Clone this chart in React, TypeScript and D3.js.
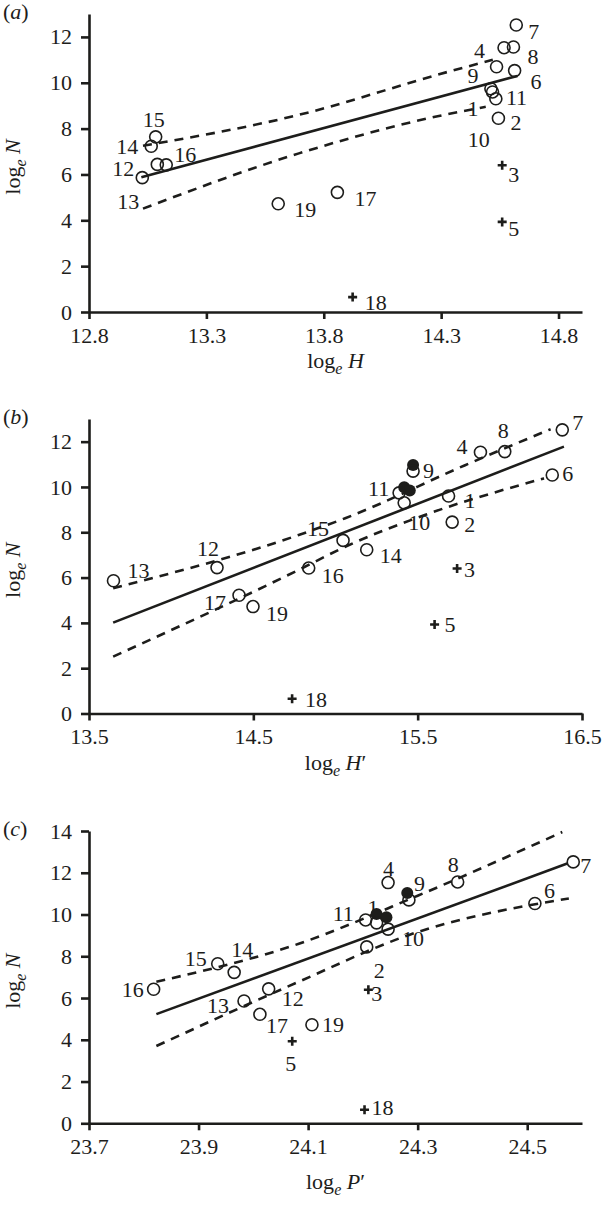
import React, { useEffect, useRef } from 'react';
import * as d3 from 'd3';

// species numbers, shared by all three panels
const speciesIds = [1, 2, 3, 4, 5, 6, 7, 8, 9, 10, 11, 12, 13, 14, 15, 16, 17, 18, 19];
const outlierIds = [3, 5, 18];

// y values (log_e N), same for every panel
const logN = [9.6, 8.45, 6.4, 11.53, 3.93, 10.53, 12.52, 11.56, 10.7, 9.3, 9.74, 6.44, 5.86, 7.23, 7.64, 6.42, 5.22, 0.65, 4.72];

// x values per panel
const logH = [14.519, 14.544, 14.56, 14.568, 14.56, 14.613, 14.62, 14.608, 14.536, 14.533, 14.512, 13.091, 13.027, 13.065, 13.084, 13.129, 13.858, 13.923, 13.606];
const logHPrime = [15.688, 15.71, 15.74, 15.882, 15.603, 16.319, 16.38, 16.03, 15.472, 15.418, 15.387, 14.279, 13.649, 15.19, 15.046, 14.837, 14.413, 14.736, 14.498];
const logPPrime = [24.225, 24.207, 24.21, 24.246, 24.071, 24.514, 24.584, 24.373, 24.284, 24.246, 24.205, 24.028, 23.983, 23.965, 23.935, 23.818, 24.012, 24.203, 24.107];

// filled (alternative) points
const filledHPrime = [15.418, 15.452, 15.472];
const filledNB = [9.99, 9.84, 10.97];
const filledPPrime = [24.225, 24.243, 24.281];
const filledNC = [10.03, 9.87, 11.03];

// regression line and confidence limits
const fitHx = [13.023, 14.625];
const fitHy = [5.88, 10.3];
const upperHx = [13.03, 13.694, 14.33, 14.52];
const upperHy = [7.25, 8.6, 10.48, 11.0];
const lowerHx = [13.03, 13.694, 14.29, 14.49];
const lowerHy = [4.51, 6.92, 8.55, 8.95];

const fitHPx = [13.647, 16.39];
const fitHPy = [4.01, 11.78];
const upperHPx = [13.647, 14.776, 15.059, 15.785, 16.309];
const upperHPy = [5.53, 7.88, 8.62, 10.95, 12.55];
const lowerHPx = [13.647, 14.776, 15.059, 15.543, 16.269];
const lowerHPy = [2.51, 6.34, 7.36, 8.76, 10.38];

const fitPx = [23.823, 24.573];
const fitPy = [5.23, 12.44];
const upperPx = [23.823, 24.083, 24.3, 24.564];
const upperPy = [6.78, 8.6, 10.9, 13.95];
const lowerPx = [23.823, 24.083, 24.283, 24.576];
const lowerPy = [3.7, 6.78, 9.01, 10.77];

// ticks
const xTicksA = [12.8, 13.3, 13.8, 14.3, 14.8];
const xTicksB = [13.5, 14.5, 15.5, 16.5];
const xTicksC = [23.7, 23.9, 24.1, 24.3, 24.5];
const yTicksAB = [0, 2, 4, 6, 8, 10, 12];
const yTicksC = [0, 2, 4, 6, 8, 10, 12, 14];

// label placement (px offset from the marker to the label's start/baseline)
const labelOffsetA: [number, number][] = [
  [-25, 24], [12, 12], [6, 17], [-30, 10], [6, 14], [16, 18], [12, 14], [14, 17], [-29, 16], [-28, 48],
  [15, 16], [-45, 12], [-25, 31], [-35, 8], [-13, -10], [8, -3], [17, 14], [12, 13], [16, 13],
];
const labelOffsetB: [number, number][] = [
  [16, 12], [12, 10], [7, 8], [-24, 2], [10, 8], [10, 6], [10, 0], [-7, -14], [10, 7], [4, 27],
  [-31, 3], [-20, -12], [14, -3], [13, 13], [-36, -4], [13, 15], [-35, 15], [13, 8], [13, 14],
];
const labelOffsetC: [number, number][] = [
  [-9, -8], [7, 31], [3, 11], [-5, -7], [-7, 30], [9, -5], [7, 11], [-10, -10], [5, -9], [14, 17],
  [-33, 1], [13, 17], [-37, 12], [-3, -15], [-33, 2], [-32, 8], [6, 19], [7, 5], [10, 7],
];

const FONT = '"Liberation Serif", "Times New Roman", serif';
const INK = '#1d1d1b';
const LEFT = 89;
const RIGHT = 582;

interface PanelProps {
  tag: string;
  xs: number[];
  xDomain: [number, number];
  yDomain: [number, number];
  top: number;
  bottom: number;
  xTicks: number[];
  yTicks: number[];
  fit: [number[], number[]];
  upper: [number[], number[]];
  lower: [number[], number[]];
  filled: [number[], number[]];
  offsets: [number, number][];
  xName: string;
  prime: boolean;
  titleGap: number;
}

function Panel(props: PanelProps) {
  const gx = useRef<SVGGElement>(null);
  const gy = useRef<SVGGElement>(null);
  const x = d3.scaleLinear().domain(props.xDomain).range([LEFT, RIGHT]);
  const y = d3.scaleLinear().domain(props.yDomain).range([props.bottom, props.top]);

  useEffect(() => {
    const ax = d3.select(gx.current);
    ax.call(
      d3.axisBottom(x).tickValues(props.xTicks).tickFormat(d3.format('.1f'))
        .tickSizeInner(7).tickSizeOuter(0).tickPadding(8)
    );
    const ay = d3.select(gy.current);
    ay.call(
      d3.axisLeft(y).tickValues(props.yTicks).tickFormat(d3.format('d'))
        .tickSizeInner(8).tickSizeOuter(0).tickPadding(9)
    );
    [ax, ay].forEach((g) => {
      g.attr('font-size', 22).attr('font-family', FONT);
      g.selectAll('path, line').attr('stroke', INK).attr('stroke-width', 2.6);
      g.selectAll('text').attr('fill', INK);
    });
  }, []);

  const pathOf = (pts: [number[], number[]]) =>
    d3.line<number>()
      .x((_, i) => x(pts[0][i]))
      .y((_, i) => y(pts[1][i]))
      .curve(d3.curveMonotoneX)(pts[0]) || '';

  const midX = (LEFT + RIGHT) / 2;
  const midY = (props.top + props.bottom) / 2 + 4;

  return (
    <g>
      <text x={3} y={props.top + 5} fontFamily={FONT} fontSize={22} fill={INK}>
        (<tspan fontStyle="italic">{props.tag}</tspan>)
      </text>

      <path d={pathOf(props.upper)} fill="none" stroke={INK} strokeWidth={2.6} strokeDasharray="9,7" />
      <path d={pathOf(props.lower)} fill="none" stroke={INK} strokeWidth={2.6} strokeDasharray="9,7" />
      <path d={pathOf(props.fit)} fill="none" stroke={INK} strokeWidth={2.6} />

      {props.filled[0].map((v, i) => (
        <circle key={'f' + i} cx={x(v)} cy={y(props.filled[1][i])} r={6} fill={INK} />
      ))}

      {speciesIds.map((id, i) => {
        const cx = x(props.xs[i]);
        const cy = y(logN[i]);
        const [dx, dy] = props.offsets[i];
        return (
          <g key={id}>
            {outlierIds.includes(id) ? (
              <path d={`M${cx - 4.5},${cy}H${cx + 4.5}M${cx},${cy - 4.5}V${cy + 4.5}`} stroke={INK} strokeWidth={2.6} />
            ) : (
              <circle cx={cx} cy={cy} r={6} fill="none" stroke={INK} strokeWidth={1.6} />
            )}
            <text x={cx + dx} y={cy + dy} fontFamily={FONT} fontSize={22} fill={INK}>{id}</text>
          </g>
        );
      })}

      <g ref={gx} transform={`translate(0,${props.bottom})`} />
      <g ref={gy} transform={`translate(${LEFT},0)`} />

      <text x={midX} y={props.bottom + props.titleGap} textAnchor="middle" fontFamily={FONT} fontSize={22} fill={INK}>
        log<tspan fontSize={16} fontStyle="italic" dy={6}>e</tspan>
        <tspan dy={-6}> </tspan>
        <tspan fontStyle="italic">{props.xName}</tspan>
        {props.prime ? '\u2032' : ''}
      </text>

      <text transform={`translate(20,${midY}) rotate(-90)`} textAnchor="middle" fontFamily={FONT} fontSize={22} fill={INK}>
        log<tspan fontSize={16} fontStyle="italic" dy={6}>e</tspan>
        <tspan dy={-6}> </tspan>
        <tspan fontStyle="italic">N</tspan>
      </text>
    </g>
  );
}

export default function App() {
  return (
    <svg width={606} height={1213} style={{ position: 'absolute', left: 0, top: 0, background: '#fff' }}>
      <Panel tag="a" xs={logH} xDomain={[12.8, 14.9]} yDomain={[0, 13]} top={14} bottom={312}
        xTicks={xTicksA} yTicks={yTicksAB} fit={[fitHx, fitHy]} upper={[upperHx, upperHy]} lower={[lowerHx, lowerHy]}
        filled={[[], []]} offsets={labelOffsetA} xName="H" prime={false} titleGap={56} />
      <Panel tag="b" xs={logHPrime} xDomain={[13.5, 16.5]} yDomain={[0, 13]} top={419} bottom={713.5}
        xTicks={xTicksB} yTicks={yTicksAB} fit={[fitHPx, fitHPy]} upper={[upperHPx, upperHPy]} lower={[lowerHPx, lowerHPy]}
        filled={[filledHPrime, filledNB]} offsets={labelOffsetB} xName="H" prime={true} titleGap={56} />
      <Panel tag="c" xs={logPPrime} xDomain={[23.7, 24.6]} yDomain={[0, 14]} top={831} bottom={1123.3}
        xTicks={xTicksC} yTicks={yTicksC} fit={[fitPx, fitPy]} upper={[upperPx, upperPy]} lower={[lowerPx, lowerPy]}
        filled={[filledPPrime, filledNC]} offsets={labelOffsetC} xName="P" prime={true} titleGap={66} />
    </svg>
  );
}
